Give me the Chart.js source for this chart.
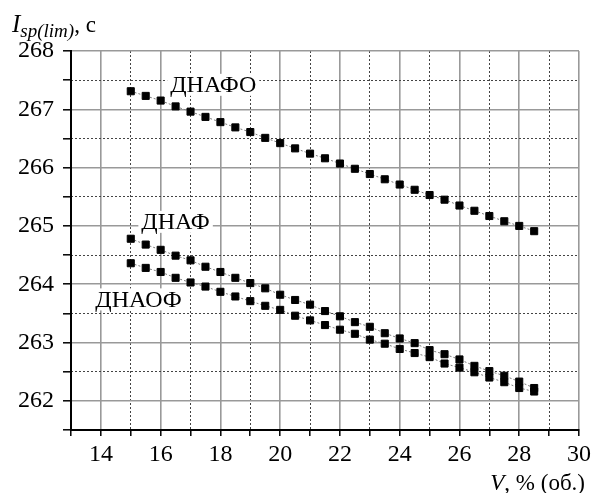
<!DOCTYPE html>
<html><head><meta charset="utf-8">
<script src="https://cdn.jsdelivr.net/npm/chart.js@4/dist/chart.umd.min.js"></script>
<style>
html,body{margin:0;padding:0;background:#fff;}
#wrap{position:relative;width:595px;height:493px;overflow:hidden;}
canvas{position:absolute;left:0;top:0;}
.t{position:absolute;font-family:"Liberation Serif",serif;font-size:23px;color:#000;white-space:nowrap;line-height:1;}
.t sub{font-size:19px;font-style:italic;vertical-align:-5px;line-height:1;}
</style></head><body>
<div id="wrap">
<canvas id="c" width="595" height="493"></canvas>
<div class="t" id="ytitle" style="left:12px;top:11px;"><i style="font-size:25px;">I</i><sub>sp(lim)</sub>, с</div>
<div class="t" id="xtitle" style="right:10px;top:471px;"><i>V</i>, % (об.)</div>
</div>
<script>
const xValues = [15, 15.5, 16, 16.5, 17, 17.5, 18, 18.5, 19, 19.5, 20, 20.5, 21, 21.5,
                 22, 22.5, 23, 23.5, 24, 24.5, 25, 25.5, 26, 26.5, 27, 27.5, 28, 28.5];
const seriesDNAFO = [267.31, 267.23, 267.15, 267.05, 266.96, 266.87, 266.78, 266.69, 266.61, 266.51,
                     266.42, 266.33, 266.24, 266.16, 266.07, 265.98, 265.89, 265.80, 265.71, 265.62,
                     265.53, 265.45, 265.35, 265.26, 265.17, 265.08, 265.00, 264.91];
const seriesDNAF  = [264.78, 264.68, 264.59, 264.49, 264.41, 264.30, 264.21, 264.11, 264.02, 263.93,
                     263.82, 263.73, 263.65, 263.54, 263.45, 263.35, 263.27, 263.16, 263.07, 262.99,
                     262.87, 262.80, 262.71, 262.60, 262.51, 262.43, 262.33, 262.22];
const seriesDNAOF = [264.36, 264.28, 264.21, 264.11, 264.03, 263.96, 263.87, 263.79, 263.71, 263.63,
                     263.56, 263.46, 263.38, 263.30, 263.22, 263.15, 263.05, 262.98, 262.89, 262.82,
                     262.75, 262.64, 262.57, 262.49, 262.40, 262.32, 262.22, 262.16];
const seriesNames = ['ДНАФО', 'ДНАФ', 'ДНАОФ'];
const xAllTicks = [13, 14, 15, 16, 17, 18, 19, 20, 21, 22, 23, 24, 25, 26, 27, 28, 29, 30];
const xMajorTicks = [14, 16, 18, 20, 22, 24, 26, 28, 30];
const xMinorTicks = [15, 17, 19, 21, 23, 25, 27, 29];
const yAllTicks = [261.5, 262, 262.5, 263, 263.5, 264, 264.5, 265, 265.5, 266, 266.5, 267, 267.5, 268];
const yMajorTicks = [262, 263, 264, 265, 266, 267, 268];
const yMinorTicks = [262.5, 263.5, 264.5, 265.5, 266.5, 267.5];
const labelAnchors = [
  {text: 'ДНАФО', x: 17.76, y: 267.42},
  {text: 'ДНАФ',  x: 16.5,  y: 265.07},
  {text: 'ДНАОФ', x: 15.26, y: 263.74}
];

const FONT = '"Liberation Serif", "Times New Roman", serif';
const toPts = (ys) => xValues.map((x, i) => ({x: x, y: ys[i]}));
const mkSet = (name, ys) => ({
  label: name, data: toPts(ys), showLine: true,
  borderColor: '#7a7a7a', borderWidth: 1, borderDash: [2, 2],
  pointStyle: 'rect', pointRadius: 5, pointHoverRadius: 5,
  pointBackgroundColor: '#000', pointBorderColor: '#000', pointBorderWidth: 1
});

const seriesLabels = {
  id: 'seriesLabels',
  beforeDatasetsDraw(chart) {
    const ctx = chart.ctx, xs = chart.scales.x, ys = chart.scales.y;
    ctx.save();
    ctx.font = '24px ' + FONT;
    ctx.textAlign = 'center';
    ctx.textBaseline = 'middle';
    labelAnchors.forEach(a => {
      const px = xs.getPixelForValue(a.x), py = ys.getPixelForValue(a.y);
      const w = ctx.measureText(a.text).width;
      ctx.fillStyle = '#fff';
      ctx.fillRect(px - w / 2 - 3, py - 11, w + 6, 22);
      ctx.fillStyle = '#000';
      ctx.fillText(a.text, px, py + 1);
    });
    ctx.restore();
  }
};

new Chart(document.getElementById('c'), {
  type: 'scatter',
  data: { datasets: [mkSet(seriesNames[0], seriesDNAFO), mkSet(seriesNames[1], seriesDNAF), mkSet(seriesNames[2], seriesDNAOF)] },
  options: {
    responsive: false, animation: false,
    layout: { padding: { top: 51, right: 11, left: 0, bottom: 0 } },
    plugins: { legend: { display: false }, tooltip: { enabled: false } },
    scales: {
      x: {
        type: 'linear', position: 'bottom', min: 13, max: 30,
        afterBuildTicks: (ax) => { ax.ticks = xAllTicks.map(v => ({value: v})); },
        afterFit: (ax) => { ax.height = 63; },
        ticks: {
          font: { family: FONT, size: 24 }, color: '#000', padding: 4, maxRotation: 0, autoSkip: false,
          callback: (v) => xMajorTicks.includes(v) ? String(v) : ''
        },
        grid: {
          color: (c) => (c.tick && xMajorTicks.includes(c.tick.value)) ? '#999' : 'rgba(0,0,0,0)',
          lineWidth: 1.6, tickColor: '#000', tickLength: 6, tickWidth: 1.5
        },
        border: { display: true, color: '#000', width: 2 }
      },
      x2: {
        type: 'linear', position: 'bottom', min: 13, max: 30,
        afterBuildTicks: (ax) => { ax.ticks = xMinorTicks.map(v => ({value: v})); },
        afterFit: (ax) => { ax.height = 0; },
        ticks: { display: false },
        grid: { color: '#444', lineWidth: 1, drawTicks: false },
        border: { display: false, dash: [2, 2] }
      },
      y: {
        type: 'linear', position: 'left', min: 261.5, max: 268,
        afterBuildTicks: (ax) => { ax.ticks = yAllTicks.map(v => ({value: v})); },
        afterFit: (ax) => { ax.width = 71; },
        ticks: {
          font: { family: FONT, size: 24 }, color: '#000', padding: 9, autoSkip: false,
          callback: (v) => yMajorTicks.includes(v) ? String(v) : ''
        },
        grid: {
          color: (c) => (c.tick && yMajorTicks.includes(c.tick.value)) ? '#999' : 'rgba(0,0,0,0)',
          lineWidth: 1.6, tickColor: '#000', tickLength: 8, tickWidth: 1.5
        },
        border: { display: true, color: '#000', width: 2 }
      },
      y2: {
        type: 'linear', position: 'left', min: 261.5, max: 268,
        afterBuildTicks: (ax) => { ax.ticks = yMinorTicks.map(v => ({value: v})); },
        afterFit: (ax) => { ax.width = 0; },
        ticks: { display: false },
        grid: { color: '#444', lineWidth: 1, drawTicks: false },
        border: { display: false, dash: [2, 2] }
      }
    }
  },
  plugins: [seriesLabels]
});
</script>
</body></html>
